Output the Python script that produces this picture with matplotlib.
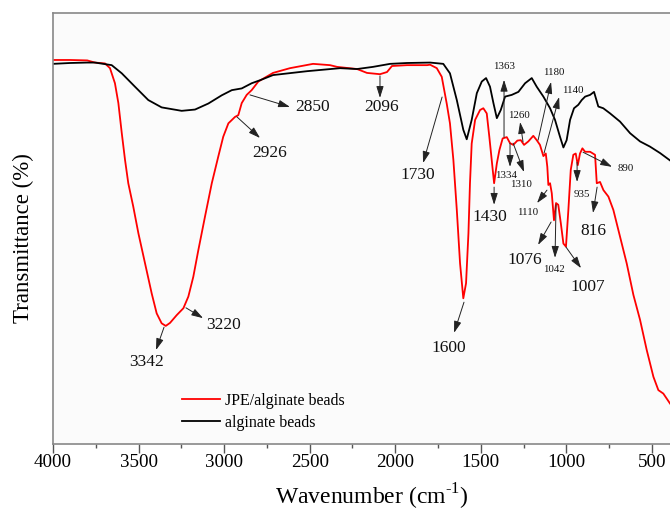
import matplotlib
matplotlib.use('Agg')
from matplotlib import pyplot as plt
from matplotlib.ticker import MultipleLocator

plt.rcParams['font.family'] = ['Liberation Serif', 'DejaVu Serif']
plt.rcParams['mathtext.fontset'] = 'custom'
plt.rcParams['mathtext.rm'] = 'Liberation Serif'

# DATA
# JPE/alginate beads
red_wn = [4000, 3900, 3800, 3755, 3696, 3667, 3638, 3618, 3598, 3579, 3560, 3531, 3501,
          3462, 3423, 3394, 3365, 3341, 3316, 3277, 3238, 3209, 3180, 3151, 3112, 3072,
          3034, 3005, 2975, 2936, 2917, 2897, 2868, 2839, 2800, 2714, 2615, 2480, 2381,
          2340, 2223, 2165, 2089, 2048, 2019, 1931, 1814, 1796, 1757, 1728, 1699, 1680,
          1660, 1640, 1621, 1602, 1586, 1572, 1563, 1553, 1533, 1504, 1485, 1465, 1450,
          1436, 1422, 1406, 1391, 1372, 1348, 1329, 1310, 1286, 1266, 1247, 1222, 1193,
          1173, 1154, 1134, 1120, 1111, 1105, 1095, 1085, 1072, 1060, 1047, 1032, 1017,
          1002, 988, 974, 959, 945, 933, 920, 906, 890, 861, 832, 822, 803, 783, 754,
          725, 686, 647, 608, 569, 530, 491, 462, 433, 394]
red_t = [89.1, 89.1, 89.0, 88.5, 88.3, 87.2, 83.7, 79.1, 72.1, 65.9, 60.5, 55.1, 48.9,
         41.9, 34.9, 30.3, 28.0, 27.4, 28.1, 29.9, 31.5, 34.2, 38.8, 44.9, 52.7, 60.5,
         66.7, 71.3, 74.4, 75.9, 76.3, 79.1, 81.0, 82.1, 84.1, 86.1, 87.2, 88.2, 87.9,
         87.5, 87.0, 86.1, 85.8, 86.3, 87.7, 87.9, 87.9, 88.0, 87.2, 85.2, 79.0, 74.4,
         65.9, 54.3, 41.9, 33.8, 37.3, 48.9, 60.5, 69.7, 75.2, 77.5, 77.9, 76.7, 71.3,
         65.9, 60.5, 65.1, 68.2, 70.9, 71.2, 69.8, 69.4, 70.4, 70.5, 69.4, 70.2, 71.5,
         70.5, 69.4, 66.8, 67.4, 64.3, 60.1, 60.5, 58.2, 51.9, 55.9, 55.5, 51.2, 46.5,
         45.8, 54.3, 63.6, 67.1, 67.4, 64.7, 67.4, 68.6, 67.8, 67.8, 67.1, 60.5, 60.8,
         58.9, 57.4, 54.3, 48.1, 41.9, 34.6, 28.8, 21.8, 15.6, 12.5, 11.7, 9.4]

# alginate beads
black_wn = [4000, 3900, 3800, 3755, 3657, 3598, 3521, 3443, 3365, 3248, 3170, 3092, 3014,
            2955, 2897, 2839, 2790, 2714, 2515, 2322, 2223, 2130, 2030, 1931, 1796, 1719,
            1680, 1640, 1602, 1582, 1553, 1523, 1494, 1469, 1446, 1426, 1406, 1383, 1358,
            1319, 1280, 1241, 1202, 1173, 1134, 1095, 1066, 1037, 1017, 998, 978, 955, 930,
            910, 890, 861, 838, 813, 784, 744, 686, 627, 569, 511, 452, 394]
black_t = [88.2, 88.4, 88.5, 88.5, 87.9, 86.0, 82.9, 79.8, 78.1, 77.3, 77.6, 79.0, 80.9,
           82.1, 82.5, 83.7, 84.4, 85.6, 86.5, 87.2, 87.0, 87.5, 88.2, 88.4, 88.5, 88.2,
           86.0, 79.8, 72.9, 70.7, 75.2, 81.4, 84.1, 84.9, 82.9, 79.1, 75.6, 77.5, 80.6,
           81.0, 81.7, 83.7, 84.9, 82.9, 80.6, 77.9, 75.2, 71.3, 68.8, 70.5, 75.2, 77.9, 78.7,
           79.8, 80.6, 81.0, 81.7, 78.3, 77.9, 76.7, 74.8, 72.1, 70.2, 69.0, 67.5, 65.8]

# peak labels: text, arrow start, arrow tip, label position, size, alignment
big = 12.5
small = 7.8
labels = [
    ('3342', (3351, 27.1), (3398, 21.8), (3451, 19.0), big, 'center'),
    ('3220', (3223, 31.6), (3123, 29.2), (3106, 27.6), big, 'left'),
    ('2926', (2925, 75.9), (2790, 71.0), (2732, 67.5), big, 'center'),
    ('2850', (2849, 81.0), (2615, 78.2), (2586, 78.2), big, 'left'),
    ('2096', (2089, 85.4), (2089, 80.3), (2077, 78.2), big, 'center'),
    ('1730', (1726, 80.5), (1837, 65.2), (1867, 62.4), big, 'center'),
    ('1600', (1598, 32.9), (1656, 25.8), (1685, 22.3), big, 'center'),
    ('1430', (1422, 59.6), (1422, 55.5), (1446, 52.7), big, 'center'),
    ('1363', (1364, 71.2), (1364, 84.5), (1364, 87.7), small, 'center'),
    ('1334', (1329, 69.8), (1329, 64.3), (1352, 62.2), small, 'center'),
    ('1310', (1311, 69.8), (1247, 63.1), (1265, 60.1), small, 'center'),
    ('1260', (1253, 70.1), (1270, 74.7), (1276, 76.3), small, 'center'),
    ('1180', (1165, 70.5), (1089, 84.0), (1075, 86.3), small, 'center'),
    ('1140', (1130, 67.5), (1042, 80.5), (961, 82.1), small, 'center'),
    ('1110', (1113, 58.9), (1171, 55.9), (1224, 53.8), small, 'center'),
    ('1076', (1089, 51.5), (1165, 46.2), (1241, 42.7), big, 'center'),
    ('1042', (1060, 55.5), (1066, 43.2), (1072, 40.6), small, 'center'),
    ('1007', (1002, 45.7), (914, 40.8), (873, 36.4), big, 'center'),
    ('935', (937, 65.4), (937, 60.8), (908, 58.0), small, 'center'),
    ('890', (902, 67.7), (733, 64.3), (703, 64.0), small, 'left'),
    ('816', (820, 59.6), (844, 53.6), (844, 49.4), big, 'center'),
]

fig = plt.figure(figsize=(6.7, 5.15), dpi=100)
ax = fig.add_axes([53 / 670, 71 / 515, 617 / 670, 431 / 515])
ax.set_facecolor('#fbfbfb')

ax.plot(red_wn, red_t, color='#ff0000', lw=1.3, label='JPE/alginate beads')
ax.plot(black_wn, black_t, color='black', lw=1.3, label='alginate beads')

for text, start, tip, pos, size, ha in labels:
    ax.annotate('', xy=tip, xytext=start,
                arrowprops=dict(arrowstyle='-|>,head_length=0.7,head_width=0.22',
                                color='#222222', lw=0.7, shrinkA=0, shrinkB=0,
                                mutation_scale=10))
    ax.text(pos[0], pos[1], text, fontsize=size, ha=ha, va='center', color='#111111')

ax.set_xlim(4000, 394)
ax.set_ylim(0, 100)
ax.xaxis.set_major_locator(MultipleLocator(500))
ax.xaxis.set_minor_locator(MultipleLocator(250))
ax.tick_params(axis='x', which='major', direction='out', length=6.5, width=1,
               color='#555555', labelsize=13.7, pad=1)
ax.tick_params(axis='x', which='minor', direction='out', length=3, width=1, color='#555555')
ax.set_yticks([])

for side in ['left', 'top', 'bottom']:
    ax.spines[side].set_color('#888888')
    ax.spines[side].set_linewidth(1.2)
ax.spines['right'].set_visible(False)

# labelling
fig.text(372 / 670, 1 - 497 / 515, 'Wavenumber (cm$^{\\mathrm{\u2010}1}$)', fontsize=17,
         ha='center', va='center')
fig.text(23 / 670, 1 - 238 / 515, 'Transmittance (%)', fontsize=16.5,
         ha='center', va='center', rotation=90)

ax.legend(loc='upper left', bbox_to_anchor=(182 / 670, 1 - 393 / 515),
          bbox_transform=fig.transFigure, frameon=False, fontsize=11.5,
          borderpad=0, borderaxespad=0, handlelength=2.4, handletextpad=0.3,
          labelspacing=0.35)

fig.savefig('out.png', dpi=100)
